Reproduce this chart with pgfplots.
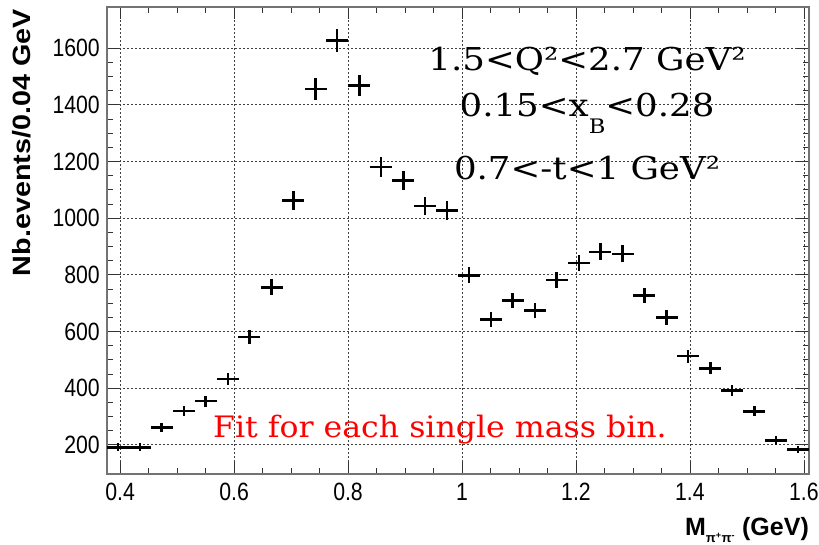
\documentclass[border=0pt]{standalone}
\usepackage{pgfplots}
\pgfplotsset{compat=1.18}
\usepackage{pgfplotstable}
\usepackage{fontspec}
\setmainfont{Liberation Sans}
\newfontfamily\tickfont[FakeStretch=0.85]{Liberation Sans}
\newfontfamily\labfont[FakeStretch=1.15]{Liberation Sans}
\newfontfamily\anfont[FakeStretch=1.13]{DejaVu Serif}
\newfontfamily\redfont[FakeStretch=1.07]{DejaVu Serif}
\definecolor{annred}{RGB}{255,0,0}
\pgfplotstableread{
x      y     ex      ey
0.396  191   0.0193  13.8
0.435  191   0.0193  13.8
0.473  261   0.0193  16.2
0.512  320   0.0193  17.9
0.550  354   0.0193  18.8
0.589  433   0.0193  20.8
0.627  581   0.0193  24.1
0.666  756   0.0193  27.5
0.704  1063  0.0193  32.6
0.743  1455  0.0193  38.1
0.781  1627  0.0193  40.3
0.820  1468  0.0193  38.3
0.858  1180  0.0193  34.4
0.897  1133  0.0193  33.7
0.935  1043  0.0193  32.3
0.974  1027  0.0193  32.0
1.012  798   0.0193  28.2
1.051  642   0.0193  25.3
1.089  710   0.0193  26.6
1.128  674   0.0193  26.0
1.166  781   0.0193  27.9
1.205  842   0.0193  29.0
1.243  881   0.0193  29.7
1.282  874   0.0193  29.6
1.320  727   0.0193  27.0
1.359  649   0.0193  25.5
1.397  513   0.0193  22.6
1.436  470   0.0193  21.7
1.474  392   0.0193  19.8
1.513  318   0.0193  17.8
1.551  215   0.0193  14.7
1.590  184   0.0193  13.6
}\datatable
\begin{document}
\begin{tikzpicture}
\begin{axis}[
  scale only axis,
  width=702bp, height=467bp,
  xmin=0.377, xmax=1.609,
  ymin=97, ymax=1745,
  xtick={0.4,0.6,0.8,1,1.2,1.4,1.6},
  xticklabels={0.4,0.6,0.8,1,1.2,1.4,1.6},
  ytick={200,400,600,800,1000,1200,1400,1600},
  minor x tick num=3,
  minor y tick num=3,
  tick align=inside,
  xtick pos=both, ytick pos=both,
  major tick length=12bp,
  minor tick length=6bp,
  tick style={black!80, line width=0.8bp},
  axis line style={black!55, line width=1.4bp},
  grid=major,
  major grid style={dash pattern=on 2bp off 2bp, black!75, line width=0.8bp},
  /pgf/number format/assume math mode=true,
  /pgf/number format/1000 sep={},
  ticklabel style={font=\tickfont\fontsize{25bp}{28bp}\selectfont, inner sep=0pt},
  yticklabel style={xshift=-7bp},
  xticklabel style={yshift=-9bp},
  clip=false,
]
\path (axis description cs:-0.1524,-0.1499) rectangle (axis description cs:1.0142,1.015);
\addplot[draw=none, mark=none,
  error bars/.cd, x dir=both, x explicit, y dir=both, y explicit,
  error mark=none, error bar style={line width=2.5bp, black}]
  table[x=x, y=y, x error=ex, y error=ey] {\datatable};
\node[anchor=east, rotate=90, inner sep=0pt] at (axis description cs:-0.1211,0.9957)
  {\labfont\bfseries\fontsize{25bp}{28bp}\selectfont Nb.events/0.04 GeV};
\node[anchor=base east, inner sep=0pt] at (axis description cs:1.0,-0.1306)
  {\bfseries\fontsize{25bp}{28bp}\selectfont M\raisebox{-0.3em}{\fontsize{13bp}{13bp}\selectfont π\textsuperscript{+}π\textsuperscript{-}} (GeV)};
\node[anchor=base, inner sep=0pt] at (axis description cs:0.6838,0.8651)
  {\anfont\fontsize{31.5bp}{34bp}\selectfont 1.5<Q²<2.7 GeV²};
\node[anchor=base, inner sep=0pt] at (axis description cs:0.6838,0.7666)
  {\anfont\fontsize{31.5bp}{34bp}\selectfont 0.15<x\raisebox{-0.55em}{\fontsize{20bp}{20bp}\selectfont B}<0.28};
\node[anchor=base, inner sep=0pt] at (axis description cs:0.6838,0.6296)
  {\anfont\fontsize{31.5bp}{34bp}\selectfont 0.7<-t<1 GeV²};
\node[anchor=base west, inner sep=0pt, text=annred] at (axis description cs:0.1510,0.0792)
  {\redfont\fontsize{29.5bp}{32bp}\selectfont Fit for each single mass bin.};
\end{axis}
\end{tikzpicture}
\end{document}
